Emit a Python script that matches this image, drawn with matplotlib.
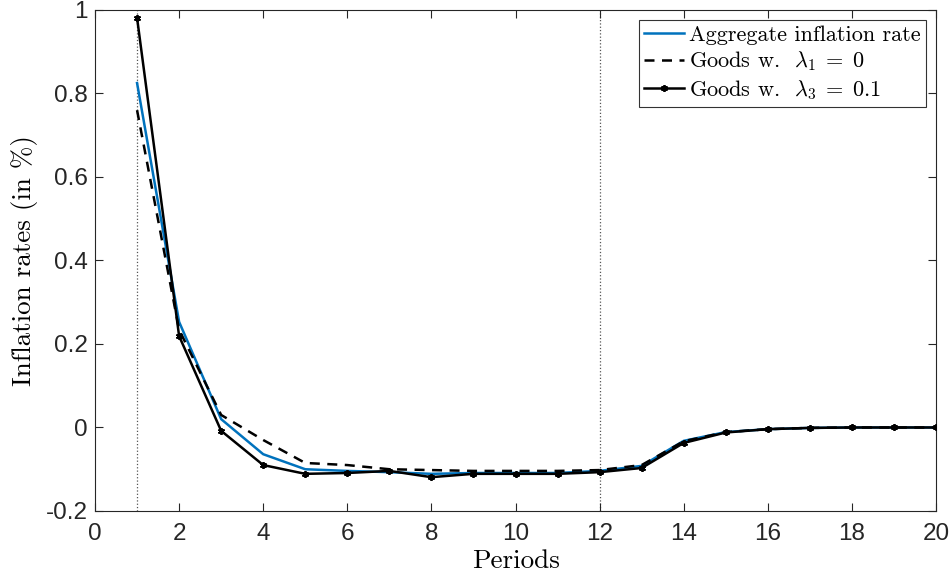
import matplotlib
matplotlib.use("Agg")
import matplotlib.pyplot as plt

plt.rcParams["mathtext.fontset"] = "cm"
plt.rcParams["axes.unicode_minus"] = False

periods = list(range(1, 21))
aggregate = [0.825, 0.253, 0.020, -0.064, -0.100, -0.104, -0.107, -0.111, -0.109, -0.109,
             -0.109, -0.104, -0.092, -0.032, -0.011, -0.004, -0.001, 0.0, 0.0, 0.0]
goods_l1 = [0.760, 0.234, 0.030, -0.030, -0.085, -0.090, -0.100, -0.102, -0.104, -0.104,
            -0.104, -0.102, -0.090, -0.033, -0.011, -0.004, -0.001, 0.0, 0.0, 0.0]
goods_l3 = [0.981, 0.219, -0.008, -0.090, -0.111, -0.109, -0.104, -0.119, -0.111, -0.111,
            -0.111, -0.107, -0.097, -0.037, -0.012, -0.004, -0.001, 0.0, 0.0, 0.0]
vlines_at = [1, 12]
xticks = list(range(0, 21, 2))
yticks = [-0.2, 0, 0.2, 0.4, 0.6, 0.8, 1]
ytick_labels = ["-0.2", "0", "0.2", "0.4", "0.6", "0.8", "1"]

fig = plt.figure(figsize=(9.52, 5.77), dpi=100)
ax = fig.add_axes([0.0998, 0.1144, 0.8834, 0.8683])

for v in vlines_at:
    ax.axvline(v, color="#555555", linestyle=":", linewidth=0.9, zorder=1)

ax.plot(periods, aggregate, color="#0072BD", linewidth=1.8, label="Aggregate inflation rate", zorder=3)
ax.plot(periods, goods_l1, color="black", linestyle=(0, (4, 3)), linewidth=1.8,
        label=r"Goods w.  $\lambda_1\;=\;0$", zorder=3)
ax.plot(periods, goods_l3, color="black", linewidth=1.8, marker=(6, 2, 0), markersize=5,
        markeredgewidth=1.3, label=r"Goods w.  $\lambda_3\;=\;0.1$", zorder=4)

ax.set_xlim(0, 20)
ax.set_ylim(-0.2, 1)
ax.set_xticks(xticks)
ax.set_yticks(yticks)
ax.set_yticklabels(ytick_labels)
ax.tick_params(direction="in", length=6, width=0.8, labelsize=17.5, colors="#262626",
               top=True, right=True)
ax.tick_params(axis="y", pad=5)
ax.tick_params(axis="x", pad=8.5)
for lab in ax.get_xticklabels() + ax.get_yticklabels():
    lab.set_fontfamily("Liberation Sans")
for s in ax.spines.values():
    s.set_linewidth(0.8)
    s.set_color("#262626")

ax.set_xlabel("Periods", fontfamily="cmr10", fontsize=19.5, labelpad=3)
ax.set_ylabel("Inflation rates (in %)", fontfamily="cmr10", fontsize=19.5, labelpad=6)

leg = ax.legend(loc="upper right", frameon=True, fancybox=False,
                edgecolor="black", handlelength=1.8, handletextpad=0.2,
                borderpad=0.25, labelspacing=0.2, borderaxespad=0.45,
                prop={"family": "cmr10", "size": 16})
leg.get_frame().set_linewidth(0.8)

fig.savefig("out.png", dpi=100)
